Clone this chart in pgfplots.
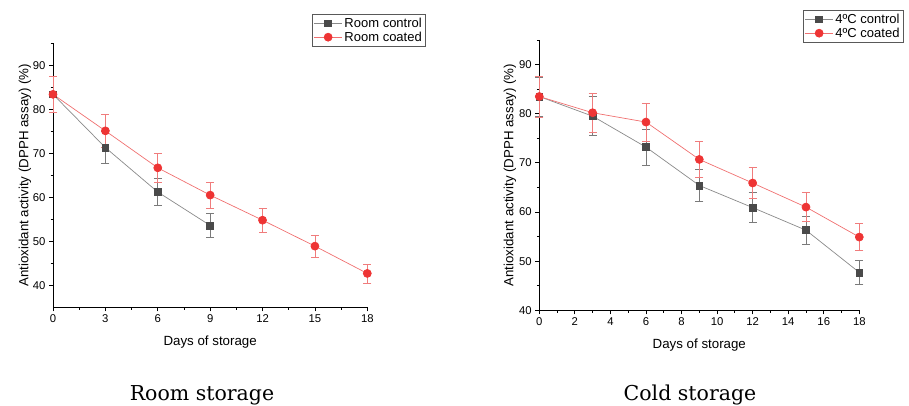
\documentclass[border=0pt]{standalone}
\usepackage{fontspec}
\usepackage{pgfplots}
\pgfplotsset{compat=1.18}
\newfontfamily\arial{Liberation Sans}
\newfontfamily\titlefont{DejaVu Serif}
\definecolor{ctrlmark}{HTML}{4A4A4A}
\definecolor{ctrlline}{HTML}{8A8A8A}
\definecolor{ctrlerr}{HTML}{7A7A7A}
\definecolor{coatmark}{HTML}{EE3434}
\definecolor{coatline}{HTML}{F07070}
\definecolor{coaterr}{HTML}{F07C7C}

\pgfplotstableread{
x y e
0 83.4 4.0
3 71.3 3.6
6 61.2 3.1
9 53.6 2.7
}\roomctrl
\pgfplotstableread{
x y e
0 83.4 4.2
3 75.1 3.75
6 66.7 3.3
9 60.5 3.0
12 54.8 2.7
15 48.9 2.5
18 42.7 2.15
}\roomcoat
\pgfplotstableread{
x y e
0 83.5 4.0
3 79.5 4.0
6 73.2 3.7
9 65.4 3.3
12 60.9 3.0
15 56.3 2.8
18 47.7 2.4
}\coldctrl
\pgfplotstableread{
x y e
0 83.5 4.2
3 80.2 4.0
6 78.3 3.9
9 70.7 3.6
12 65.9 3.2
15 61.0 3.0
18 54.9 2.75
}\coldcoat

\pgfplotsset{
  myaxis/.style={
    scale only axis,
    anchor=south west,
    clip=false,
    axis lines*=left,
    axis line style={line width=0.9pt, black},
    tick align=outside,
    major tick length=4pt,
    minor tick length=2.5pt,
    every tick/.style={black, line width=0.8pt},
    tick label style={font=\arial\fontsize{11.3}{13}\selectfont},
    /pgf/number format/assume math mode=true,
    xlabel={Days of storage},
    ylabel={Antioxidant activity (DPPH assay) (\%)},
    legend style={at={(0.824,1.111)}, anchor=north west, draw=black!65, line width=0.6pt,
      font=\arial\fontsize{13}{15}\selectfont, inner sep=1.5pt, row sep=-1pt,
      legend cell align=left},
    legend image code/.code={\draw[mark repeat=2,mark phase=2] plot coordinates {(0pt,0pt)(14pt,0pt)(28pt,0pt)};},
  },
  ctrl/.style={color=ctrlline, line width=0.7pt, mark=square*, mark size=3.4pt,
    mark options={fill=ctrlmark, draw=ctrlmark},
    error bars/.cd, y dir=both, y explicit,
    error bar style={color=ctrlerr, line width=0.7pt},
    error mark options={rotate=90, mark size=4pt, color=ctrlerr, line width=0.7pt}},
  coat/.style={color=coatline, line width=0.7pt, mark=*, mark size=4pt,
    mark options={fill=coatmark, draw=coatmark},
    error bars/.cd, y dir=both, y explicit,
    error bar style={color=coaterr, line width=0.7pt},
    error mark options={rotate=90, mark size=4pt, color=coaterr, line width=0.7pt}},
}

\begin{document}
\begin{tikzpicture}[x=1pt,y=1pt]
\useasboundingbox (0,0) rectangle (909,406);

\begin{axis}[myaxis,
  at={(53pt,98.7pt)}, width=314.3pt, height=264pt,
  xmin=0, xmax=18, ymin=35, ymax=95,
  xtick={0,3,...,18}, minor xtick={1.5,4.5,...,16.5},
  ytick={40,50,...,90}, minor ytick={45,55,...,95},
  every axis y label/.style={at={(axis description cs:-0.089,0.5)},rotate=90,anchor=center,font=\arial\fontsize{13.3}{15}\selectfont},
  every axis x label/.style={at={(axis description cs:0.5,-0.13)},anchor=center,font=\arial\fontsize{13.3}{15}\selectfont},
]
\addplot[ctrl] table[x=x,y=y,y error=e] {\roomctrl};
\addlegendentry{Room control}
\addplot[coat] table[x=x,y=y,y error=e] {\roomcoat};
\addlegendentry{Room coated}
\end{axis}

\begin{axis}[myaxis,
  at={(539.3pt,95.7pt)}, width=320pt, height=270.3pt,
  xmin=0, xmax=18, ymin=40, ymax=95,
  xtick={0,2,...,18}, minor xtick={1,3,...,17},
  ytick={40,50,...,90}, minor ytick={45,55,...,95},
  every axis y label/.style={at={(axis description cs:-0.092,0.5)},rotate=90,anchor=center,font=\arial\fontsize{13.3}{15}\selectfont},
  every axis x label/.style={at={(axis description cs:0.5,-0.128)},anchor=center,font=\arial\fontsize{13.3}{15}\selectfont},
]
\addplot[ctrl] table[x=x,y=y,y error=e] {\coldctrl};
\addlegendentry{4ºC control}
\addplot[coat] table[x=x,y=y,y error=e] {\coldcoat};
\addlegendentry{4ºC coated}
\end{axis}

\node[font=\titlefont\fontsize{20.5}{24}\selectfont, anchor=base] at (202,5) {Room storage};
\node[font=\titlefont\fontsize{20.5}{24}\selectfont, anchor=base] at (690,5) {Cold storage};
\end{tikzpicture}
\end{document}
